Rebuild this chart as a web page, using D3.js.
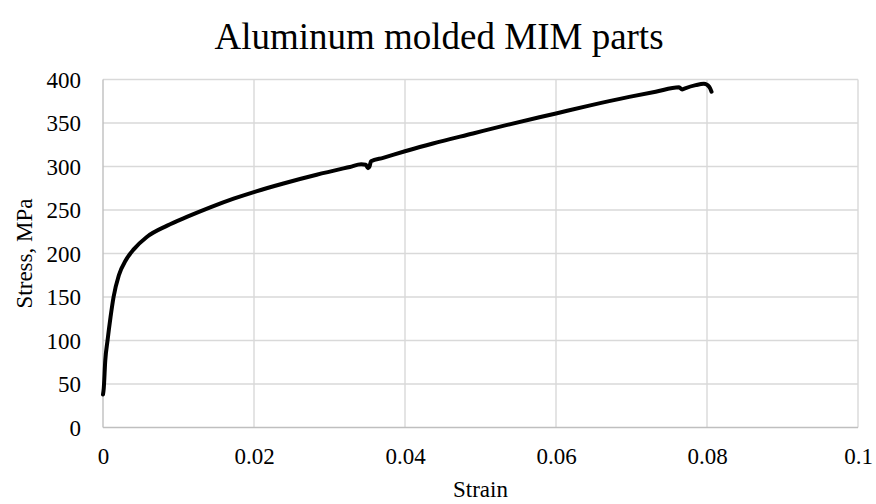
<!DOCTYPE html>
<html>
<head>
<meta charset="utf-8">
<script src="https://cdn.jsdelivr.net/npm/d3@7"></script>
<style>
  html, body { margin: 0; padding: 0; background: #fff; }
  svg { display: block; font-family: "Liberation Serif", "Times New Roman", serif; }
</style>
</head>
<body>
<svg id="chart" width="876" height="504"></svg>
<script>
const strain = [0, 0.0001, 0.0003, 0.0006, 0.001, 0.0014, 0.0021, 0.003, 0.0041, 0.0058, 0.0085, 0.0111, 0.0142, 0.0173, 0.0203, 0.0239, 0.0283, 0.0327, 0.0342, 0.0348, 0.0351, 0.0353, 0.0355, 0.0371, 0.04, 0.0437, 0.049, 0.0534, 0.06, 0.0644, 0.0697, 0.0732, 0.0763, 0.0767, 0.0770, 0.0785, 0.0796, 0.0803, 0.0806];
const stress = [38, 45, 77, 100, 127, 150, 175, 192, 205, 219, 232, 242, 253, 263, 271.5, 280.5, 290.5, 299.5, 302.5, 302, 298, 300, 306, 310, 317.5, 326.5, 338, 347.5, 361, 370, 380, 386, 391, 388.5, 389.5, 393.5, 395, 391.5, 386];
const xTicks = [0, 0.02, 0.04, 0.06, 0.08, 0.1];
const yTicks = [0, 50, 100, 150, 200, 250, 300, 350, 400];
const title = "Aluminum molded MIM parts";
const xTitle = "Strain";
const yTitle = "Stress, MPa";

(function () {
const svg = d3.select("#chart");
const pLeft = 103, pRight = 858, pTop = 79.5, pBottom = 427.5;
const x = d3.scaleLinear().domain([0, 0.1]).range([pLeft, pRight]);
const y = d3.scaleLinear().domain([0, 400]).range([pBottom, pTop]);

// gridlines
svg.append("g").selectAll("line").data(yTicks.slice(1)).join("line")
  .attr("x1", pLeft).attr("x2", pRight)
  .attr("y1", d => y(d)).attr("y2", d => y(d))
  .attr("stroke", "#d9d9d9").attr("stroke-width", 1.4);
svg.append("g").selectAll("line").data(xTicks.slice(1)).join("line")
  .attr("y1", pTop).attr("y2", pBottom)
  .attr("x1", d => x(d)).attr("x2", d => x(d))
  .attr("stroke", "#d9d9d9").attr("stroke-width", 1.4);

// axis lines
svg.append("line").attr("x1", pLeft).attr("x2", pRight).attr("y1", pBottom).attr("y2", pBottom)
  .attr("stroke", "#bfbfbf").attr("stroke-width", 1.4);
svg.append("line").attr("x1", pLeft).attr("x2", pLeft).attr("y1", pTop).attr("y2", pBottom)
  .attr("stroke", "#bfbfbf").attr("stroke-width", 1.4);

// tick labels via axes
const xAxis = svg.append("g").attr("transform", `translate(0,${pBottom})`)
  .call(d3.axisBottom(x).tickValues(xTicks).tickSize(0).tickPadding(28).tickFormat(d => String(+d.toFixed(2))));
const yAxis = svg.append("g").attr("transform", `translate(${pLeft},0)`)
  .call(d3.axisLeft(y).tickValues(yTicks).tickSize(0).tickPadding(22).tickFormat(d3.format("d")));
[xAxis, yAxis].forEach(a => {
  a.select(".domain").remove();
  a.attr("font-family", null).attr("font-size", null);
  a.selectAll("text").attr("font-family", "Liberation Serif, Times New Roman, serif")
    .attr("font-size", 23).attr("fill", "#000");
});
xAxis.selectAll("text").attr("dy", null).attr("y", 36);
yAxis.selectAll("text").attr("dy", "0.33em");

// curve
const pts = strain.map((s, i) => [s, stress[i]]);
svg.append("path").datum(pts)
  .attr("fill", "none").attr("stroke", "#000").attr("stroke-width", 4)
  .attr("stroke-linecap", "round").attr("stroke-linejoin", "round")
  .attr("d", d3.line().x(d => x(d[0])).y(d => y(d[1])).curve(d3.curveMonotoneX));

// titles
svg.append("text").attr("x", 439).attr("y", 49).attr("text-anchor", "middle")
  .attr("font-size", 37).attr("fill", "#000").text(title);
svg.append("text").attr("x", (pLeft + pRight) / 2).attr("y", 497).attr("text-anchor", "middle")
  .attr("font-size", 23).attr("fill", "#000").text(xTitle);
svg.append("text").attr("transform", `translate(32,${(pTop + pBottom) / 2}) rotate(-90)`)
  .attr("text-anchor", "middle").attr("font-size", 23).attr("fill", "#000").text(yTitle);
})();
</script>
</body>
</html>
